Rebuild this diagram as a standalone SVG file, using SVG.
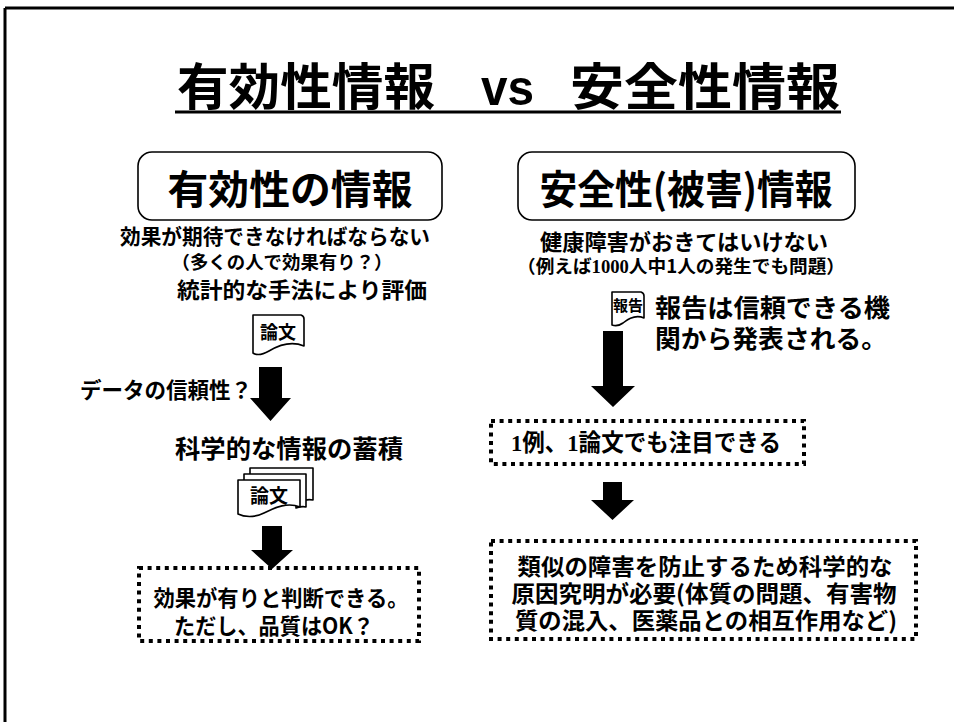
<svg xmlns="http://www.w3.org/2000/svg" width="954" height="722" viewBox="0 0 954 722">
<style>
.t{font-family:"Noto Sans CJK JP","Noto Sans CJK SC",sans-serif;font-weight:700;fill:#000}
.d{font-family:"Liberation Serif","Noto Sans CJK JP",serif;font-weight:700}
.v{font-family:"Liberation Sans",sans-serif;font-weight:700}
.hdr{fill:#fff;stroke:#000;stroke-width:1.6}
.dot{fill:#fff;stroke:#000;stroke-width:4;stroke-dasharray:4 4.6}
.doc{fill:#fff;stroke:#000;stroke-width:1.6;stroke-linejoin:round}
.arr{fill:#000}
</style>
<rect width="954" height="722" fill="#fff"/>
<g id="frame">
<line x1="5" y1="8" x2="954" y2="8" stroke="#000" stroke-width="3"/>
<line x1="5" y1="8" x2="5" y2="722" stroke="#000" stroke-width="3"/>
</g>
<g id="title">
<text class="t" y="105" font-size="50"><tspan x="177" textLength="258" lengthAdjust="spacingAndGlyphs">有効性情報</tspan> <tspan class="v" x="481" textLength="53" lengthAdjust="spacingAndGlyphs">vs</tspan> <tspan x="570" textLength="270" lengthAdjust="spacingAndGlyphs">安全性情報</tspan></text>
<line x1="175" y1="112" x2="841" y2="112" stroke="#000" stroke-width="3"/>
</g>
<g id="left-header">
<rect class="hdr" x="138" y="152" width="304" height="68" rx="14"/>
<text class="t" x="290" y="204" font-size="40" text-anchor="middle" textLength="245" lengthAdjust="spacingAndGlyphs">有効性の情報</text>
</g>
<g id="right-header">
<rect class="hdr" x="518" y="152" width="337" height="68" rx="14"/>
<text class="t" x="686" y="204" font-size="40" text-anchor="middle" textLength="293" lengthAdjust="spacingAndGlyphs">安全性(被害)情報</text>
</g>
<g id="left-desc">
<text class="t" x="275" y="244" font-size="21" text-anchor="middle" textLength="310" lengthAdjust="spacingAndGlyphs">効果が期待できなければならない</text>
<text class="t" x="282" y="269" font-size="18" text-anchor="middle" textLength="221" lengthAdjust="spacingAndGlyphs">（多くの人で効果有り？）</text>
<text class="t" x="302" y="298" font-size="22" text-anchor="middle" textLength="250" lengthAdjust="spacingAndGlyphs">統計的な手法により評価</text>
</g>
<g id="left-doc">
<path class="doc" d="M253,315 L301,315 Q304,316 304,319 L304,346 C292,341 279,345 269,351 C262,355 256,355 253,353 Z"/>
<text class="t" x="278" y="339" font-size="18" text-anchor="middle">論文</text>
</g>
<g id="left-question">
<text class="t" x="80" y="398" font-size="21.5" textLength="172" lengthAdjust="spacingAndGlyphs">データの信頼性？</text>
</g>
<g id="left-accum">
<text class="t" x="289" y="458" font-size="25" text-anchor="middle" textLength="228" lengthAdjust="spacingAndGlyphs">科学的な情報の蓄積</text>
</g>
<g id="left-docs">
<path class="doc" d="M250,468 L313,468 L313,500 C308,499 304,500 300,502 L300,480 L250,480 Z"/>
<path class="doc" d="M244,474 L306,474 L306,507 C302,506 299,507 296,508 L296,486 L244,486 Z"/>
<path class="doc" d="M238,480 L300,480 L300,507 C288,502 276,507 264,513 C254,518 244,517 238,514 Z"/>
<text class="t" x="269" y="503" font-size="19" text-anchor="middle">論文</text>
</g>
<g id="left-result">
<rect class="dot" x="139" y="568" width="280" height="73"/>
<text class="t" x="281" y="606" font-size="22" text-anchor="middle" textLength="255" lengthAdjust="spacingAndGlyphs">効果が有りと判断できる。</text>
<text class="t" x="274" y="634" font-size="22" text-anchor="middle" textLength="200" lengthAdjust="spacingAndGlyphs">ただし、品質はOK？</text>
</g>
<g id="right-desc">
<text class="t" x="684" y="250" font-size="22" text-anchor="middle" textLength="288" lengthAdjust="spacingAndGlyphs">健康障害がおきてはいけない</text>
<text class="t" x="681" y="273" font-size="18" text-anchor="middle" textLength="328" lengthAdjust="spacingAndGlyphs">（例えば<tspan class="d">1000</tspan>人中1人の発生でも問題）</text>
</g>
<g id="right-doc">
<path class="doc" d="M612,292 L641,292 Q644,293 644,296 L644,318 C637,315 629,318 623,323 C619,326 615,326 612,325 Z"/>
<text class="t" x="628" y="311" font-size="15" text-anchor="middle">報告</text>
</g>
<g id="right-report">
<text class="t" x="655" y="317" font-size="25.5" textLength="235" lengthAdjust="spacingAndGlyphs">報告は信頼できる機</text>
<text class="t" x="655" y="348" font-size="25.5" textLength="232" lengthAdjust="spacingAndGlyphs">関から発表される。</text>
</g>
<g id="right-case">
<rect class="dot" x="491" y="421" width="313" height="43"/>
<text class="t" x="646" y="451" font-size="24" text-anchor="middle" textLength="270" lengthAdjust="spacingAndGlyphs"><tspan class="d">1</tspan>例、<tspan class="d">1</tspan>論文でも注目できる</text>
</g>
<g id="right-result">
<rect class="dot" x="491" y="541" width="425" height="98"/>
<text class="t" x="705" y="575" font-size="23" text-anchor="middle" textLength="375" lengthAdjust="spacingAndGlyphs">類似の障害を防止するため科学的な</text>
<text class="t" x="704" y="602" font-size="23" text-anchor="middle" textLength="385" lengthAdjust="spacingAndGlyphs">原因究明が必要(体質の問題、有害物</text>
<text class="t" x="706" y="629" font-size="23" text-anchor="middle" textLength="382" lengthAdjust="spacingAndGlyphs">質の混入、医薬品との相互作用など)</text>
</g>
<g id="connectors">
<polygon class="arr" points="259,367 282,367 282,398 291,398 270.5,421 250,398 259,398"/>
<polygon class="arr" points="262,526 282,526 282,550 293,550 272,569 251,550 262,550"/>
<polygon class="arr" points="603,331 623,331 623,386 635,386 613,407 591,386 603,386"/>
<polygon class="arr" points="603,482 622,482 622,500 634,500 612.5,520 591,500 603,500"/>
</g>
</svg>
